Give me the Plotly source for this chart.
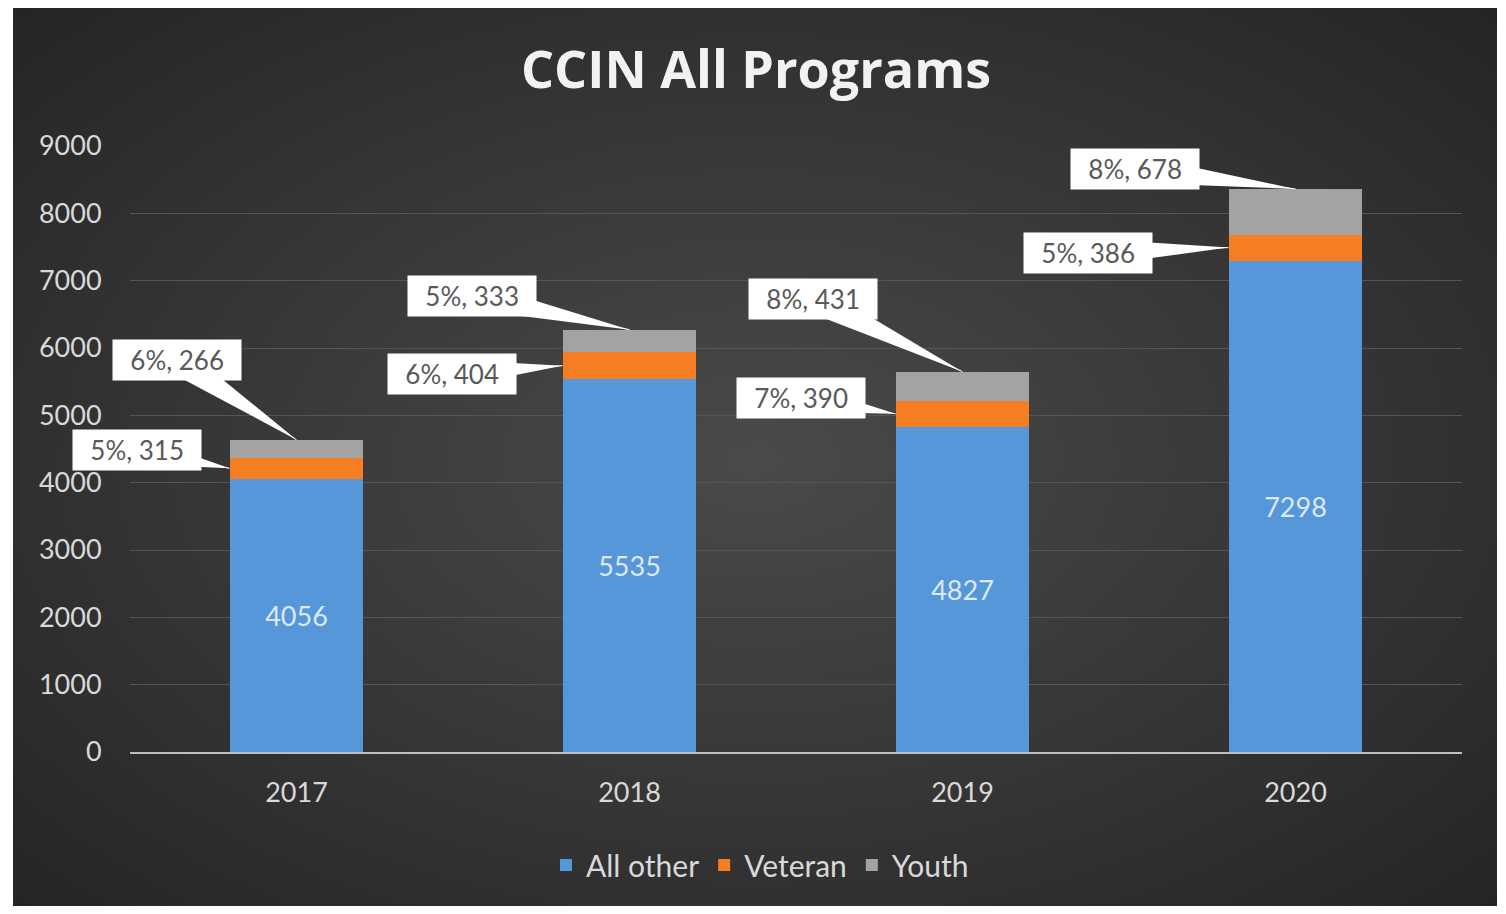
import base64
import math
import plotly.graph_objects as go

years = ["2017", "2018", "2019", "2020"]
all_other = [4056, 5535, 4827, 7298]
veteran = [315, 404, 390, 386]
youth = [266, 333, 431, 678]
veteran_pct = ["5%", "6%", "7%", "5%"]
youth_pct = ["6%", "5%", "8%", "8%"]
y_ticks = [0, 1000, 2000, 3000, 4000, 5000, 6000, 7000, 8000, 9000]

# callout offsets (pixels) from the anchor point to the label box
vet_offsets = [(-93, -18), (-111, 8), (-95, -16), (-141, 5)]
youth_offsets = [(-120, -80), (-158, -34), (-150, -73), (-161, -20)]

W, H = 1490, 898
L, R, T, B = 122, 36, 138, 154
pw, ph = W - L - R, H - T - B

fig = go.Figure()
fig.add_trace(go.Bar(name="All other", x=years, y=all_other,
                     marker=dict(color="#5597d9", line=dict(width=0)),
                     text=[str(v) for v in all_other], textposition="inside",
                     insidetextanchor="middle",
                     textfont=dict(color="#dce9f7", size=27, family="Lato")))
fig.add_trace(go.Bar(name="Veteran", x=years, y=veteran,
                     marker=dict(color="#f57d22", line=dict(width=0))))
fig.add_trace(go.Bar(name="Youth", x=years, y=youth,
                     marker=dict(color="#a3a3a3", line=dict(width=0))))


def wedge(xi, yv, xs, off):
    """Callout wedge: tip at the data point, wide base hidden under the label box."""
    ax, ay = off
    bx, by = xs + ax, -ay          # pixel path, y up
    tx, ty = xs, 0
    dx, dy = bx - tx, by - ty
    n = math.hypot(dx, dy)
    px, py = -dy / n * 14, dx / n * 14
    path = (f"M {tx},{ty} L {bx + px:.1f},{by + py:.1f} "
            f"L {bx - px:.1f},{by - py:.1f} Z")
    fig.add_shape(type="path", xref="x", yref="y", xsizemode="pixel",
                  ysizemode="pixel", xanchor=xi, yanchor=yv, path=path,
                  fillcolor="white", line=dict(width=0), layer="above")


ann_font = dict(family="Lato", size=26, color="#595959")
pad = "\u00a0\u00a0"
for i, yr in enumerate(years):
    vy = all_other[i] + veteran[i] / 2
    ax, ay = vet_offsets[i]
    wedge(i, vy, -67, vet_offsets[i])
    fig.add_annotation(x=i, y=vy, xref="x", yref="y", xshift=-67,
                       text=f"{pad}{veteran_pct[i]}, {veteran[i]}{pad}",
                       showarrow=True, arrowhead=0, arrowwidth=1, arrowcolor="white",
                       ax=ax, ay=ay, bgcolor="white", borderpad=4,
                       font=ann_font)
    ty = all_other[i] + veteran[i] + youth[i]
    ax, ay = youth_offsets[i]
    wedge(i, ty, 0, youth_offsets[i])
    fig.add_annotation(x=i, y=ty, xref="x", yref="y",
                       text=f"{pad}{youth_pct[i]}, {youth[i]}{pad}",
                       showarrow=True, arrowhead=0, arrowwidth=1, arrowcolor="white",
                       ax=ax, ay=ay, bgcolor="white", borderpad=4,
                       font=ann_font)

# dark radial-gradient chart background
svg = ('<svg xmlns="http://www.w3.org/2000/svg" width="1484" height="906" preserveAspectRatio="none">'
       '<defs><radialGradient id="g" cx="0.5" cy="0.5" r="0.75">'
       '<stop offset="0" stop-color="#4a4a4a"/>'
       '<stop offset="1" stop-color="#222222"/>'
       '</radialGradient></defs>'
       '<rect width="1484" height="906" fill="url(#g)"/></svg>')
src = "data:image/svg+xml;base64," + base64.b64encode(svg.encode()).decode()
fig.add_layout_image(source=src, xref="paper", yref="paper",
                     x=(5 - L) / pw, y=(H - B + 2) / ph,
                     sizex=1484 / pw, sizey=906 / ph, xanchor="left", yanchor="top",
                     sizing="stretch", layer="below")

fig.update_layout(
    width=W, height=H,
    barmode="stack", bargap=0.6,
    paper_bgcolor="white", plot_bgcolor="rgba(0,0,0,0)",
    margin=dict(l=L, r=R, t=T, b=B, autoexpand=False),
    title=dict(text="<b>CCIN All Programs</b>", x=(748 - L) / pw, xref="paper",
               xanchor="center", y=1 - 62 / H, yanchor="middle",
               font=dict(family="Open Sans", size=52, color="#f2f2f2")),
    showlegend=True,
    legend=dict(orientation="h", x=(752 - L) / pw, xanchor="center", xref="paper",
                y=-(857 - (H - B)) / ph, yanchor="middle",
                font=dict(family="Lato", size=30, color="#d9d9d9"),
                bgcolor="rgba(0,0,0,0)", itemwidth=30, traceorder="normal"),
    xaxis=dict(type="category", range=[-0.5, 3.5], showgrid=False, showline=True,
               linecolor="#bfbfbf", linewidth=2,
               tickfont=dict(family="Lato", size=27, color="#d9d9d9"),
               ticks="outside", ticklen=16, tickcolor="rgba(0,0,0,0)"),
    yaxis=dict(range=[0, 9000], tickvals=y_ticks, showgrid=True,
               gridcolor="#555555", gridwidth=1, zeroline=False,
               tickfont=dict(family="Lato", size=27, color="#d9d9d9"),
               ticks="outside", ticklen=22, tickcolor="rgba(0,0,0,0)"),
)

fig.write_html("out.html")
